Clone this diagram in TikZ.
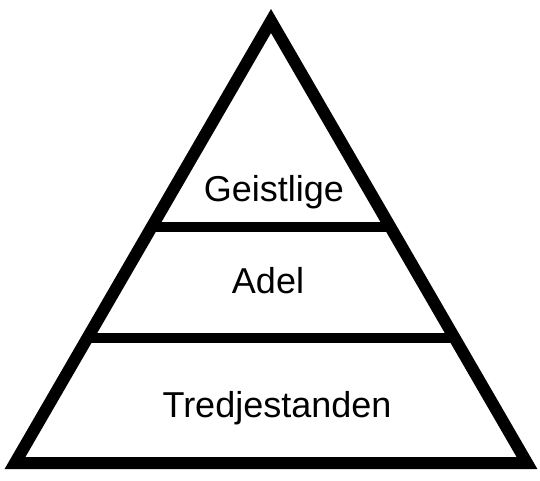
\documentclass[tikz,border=0pt]{standalone}
\usepackage{fontspec}
\setmainfont{Liberation Sans}
\begin{document}
\begin{tikzpicture}[x=1pt,y=-1pt,
  edge/.style={line width=12pt,line join=miter,miter limit=10},
  tier/.style={line width=9.5pt},
  lbl/.style={anchor=base,inner sep=0pt,font=\fontsize{36}{40}\selectfont}]
\useasboundingbox (0,0) rectangle (540,480);
\fill[white] (0,0) rectangle (540,480);
\coordinate (apex) at (271,21);
\coordinate (bl) at (15,463);
\coordinate (br) at (527,463);
\coordinate (l1) at (150,227);
\coordinate (r1) at (392,227);
\coordinate (l2) at (85,338);
\coordinate (r2) at (457,338);
\draw[tier] (l1) -- (r1);
\draw[tier] (l2) -- (r2);
\draw[edge] (apex) -- (br) -- (bl) -- cycle;
\node[lbl] (g) at (274,201) {Geistlige};
\node[lbl] (a) at (268,293) {Adel};
\node[lbl] (t) at (277,417) {Tredjestanden};
\end{tikzpicture}
\end{document}
